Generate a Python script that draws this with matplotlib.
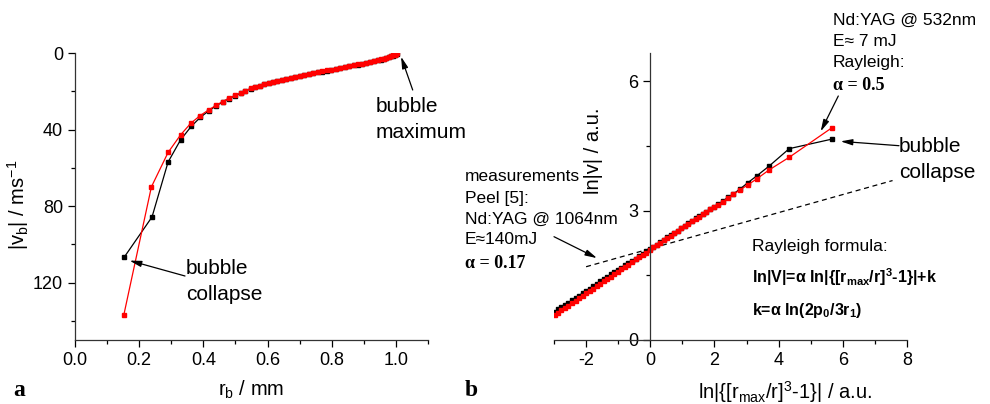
import matplotlib
matplotlib.use('Agg')
import matplotlib.pyplot as plt

plt.rcParams['font.family'] = ['Liberation Sans', 'DejaVu Sans']
plt.rcParams['mathtext.fontset'] = 'custom'
plt.rcParams['mathtext.rm'] = 'Liberation Sans'
plt.rcParams['mathtext.it'] = 'Liberation Sans:italic'
plt.rcParams['mathtext.bf'] = 'Liberation Sans:bold'
plt.rcParams['axes.unicode_minus'] = False

# panel a: bubble wall velocity vs radius
r_meas = [0.153, 0.240, 0.290, 0.329, 0.362, 0.390, 0.417, 0.440, 0.460, 0.480, 0.499, 0.516,
          0.531, 0.547, 0.561, 0.575, 0.589, 0.603, 0.617, 0.631, 0.645, 0.659, 0.673, 0.687,
          0.701, 0.715, 0.729, 0.743, 0.757, 0.771, 0.785, 0.799, 0.813, 0.827, 0.841, 0.855,
          0.869, 0.882, 0.895, 0.908, 0.920, 0.932, 0.943, 0.953, 0.962, 0.970, 0.978, 0.985,
          0.991, 0.996, 1.000, 1.003]
v_meas = [106.8, 85.7, 57.0, 45.4, 38.4, 33.7, 30.2, 27.6, 25.6, 23.8, 22.3, 21.1,
          19.9, 18.7, 17.8, 17.1, 16.4, 15.8, 15.2, 14.6, 14.1, 13.5, 13.0, 12.5,
          12.0, 11.5, 11.0, 10.6, 10.1, 9.7, 9.2, 8.8, 8.4, 7.9, 7.4, 7.0,
          6.5, 6.1, 5.6, 5.1, 4.7, 4.3, 3.9, 3.4, 3.1, 2.7, 2.3, 1.8,
          1.4, 1.0, 0.6, 0.3]
r_ray = [0.152, 0.238, 0.290, 0.329, 0.361, 0.390, 0.417, 0.440, 0.460, 0.480, 0.499, 0.516,
         0.531, 0.547, 0.561, 0.575, 0.589, 0.603, 0.617, 0.631, 0.645, 0.659, 0.673, 0.687,
         0.701, 0.715, 0.729, 0.743, 0.757, 0.771, 0.785, 0.799, 0.813, 0.827, 0.841, 0.855,
         0.869, 0.882, 0.895, 0.908, 0.920, 0.932, 0.943, 0.953, 0.962, 0.970, 0.978, 0.985,
         0.991, 0.996, 1.000, 1.003]
v_ray = [137.0, 70.0, 52.0, 42.8, 36.7, 32.7, 29.7, 27.3, 25.4, 23.6, 22.2, 21.0,
         19.8, 18.5, 17.7, 17.0, 16.3, 15.7, 15.1, 14.5, 14.0, 13.4, 12.9, 12.4,
         11.9, 11.4, 10.9, 10.5, 10.0, 9.6, 9.1, 8.7, 8.3, 7.8, 7.3, 6.9,
         6.4, 6.0, 5.5, 5.0, 4.6, 4.2, 3.8, 3.3, 3.0, 2.6, 2.2, 1.7,
         1.3, 0.9, 0.5, 0.2]

# panel b: log-log representation
lx_meas = [5.65, 4.33, 3.71, 3.32, 3.04, 2.79, 2.59, 2.42, 2.26, 2.11, 1.98, 1.86, 1.74,
           1.63, 1.52, 1.41, 1.30, 1.19, 1.08, 0.97, 0.86, 0.75, 0.64, 0.53, 0.42, 0.31,
           0.20, 0.09, -0.02, -0.13, -0.24, -0.35, -0.46, -0.57, -0.68, -0.79, -0.90,
           -1.01, -1.12, -1.23, -1.34, -1.45, -1.56, -1.67, -1.78, -1.89, -2.00, -2.11,
           -2.22, -2.33, -2.44, -2.55, -2.66, -2.77, -2.88, -2.97]
ly_meas = [4.66, 4.44, 4.04, 3.81, 3.65, 3.50, 3.39, 3.31, 3.22, 3.15, 3.09, 3.03, 2.98,
           2.93, 2.87, 2.82, 2.76, 2.71, 2.65, 2.60, 2.54, 2.49, 2.43, 2.38, 2.32, 2.27,
           2.21, 2.16, 2.11, 2.06, 2.00, 1.95, 1.89, 1.84, 1.79, 1.73, 1.68,
           1.63, 1.57, 1.52, 1.46, 1.41, 1.36, 1.30, 1.25, 1.19, 1.14, 1.09,
           1.03, 0.98, 0.92, 0.87, 0.82, 0.76, 0.71, 0.66]
lx_ray = [5.65, 4.33, 3.71, 3.32, 3.04, 2.79, 2.59, 2.42, 2.26, 2.11, 1.98, 1.86, 1.74,
          1.63, 1.52, 1.41, 1.30, 1.19, 1.08, 0.97, 0.86, 0.75, 0.64, 0.53, 0.42, 0.31,
          0.20, 0.09, -0.02, -0.13, -0.24, -0.35, -0.46, -0.57, -0.68, -0.79, -0.90,
          -1.01, -1.12, -1.23, -1.34, -1.45, -1.56, -1.67, -1.78, -1.89, -2.00, -2.11,
          -2.22, -2.33, -2.44, -2.55, -2.66, -2.77, -2.88, -2.97]
ly_ray = [4.92, 4.24, 3.95, 3.74, 3.60, 3.48, 3.38, 3.30, 3.21, 3.14, 3.09, 3.03, 2.97,
          2.92, 2.86, 2.81, 2.75, 2.70, 2.64, 2.59, 2.53, 2.48, 2.42, 2.37, 2.31, 2.26,
          2.20, 2.15, 2.09, 2.03, 1.98, 1.92, 1.87, 1.81, 1.75, 1.70, 1.64,
          1.58, 1.53, 1.47, 1.42, 1.36, 1.30, 1.25, 1.19, 1.14, 1.08, 1.02,
          0.97, 0.91, 0.86, 0.80, 0.74, 0.69, 0.63, 0.59]
peel_x = [-2.0, 7.55]
peel_y = [1.70, 3.70]

W, H = 990, 404
fig = plt.figure(figsize=(W / 100, H / 100), dpi=100)

def fx(px):
    return px / W

def fy(py):
    return 1 - py / H

arrow = dict(arrowstyle='-|>,head_length=0.7,head_width=0.18', color='black', lw=0.9,
             shrinkA=0, shrinkB=0)

#---- panel a
ax1 = fig.add_axes([fx(75), fy(340), fx(428) - fx(75), fy(53) - fy(340)])
ax1.plot(r_meas, v_meas, color='black', lw=0.9, marker='s', ms=3, mec='black', mfc='black')
ax1.plot(r_ray, v_ray, color='red', lw=0.9, marker='s', ms=3, mec='red', mfc='red')
ax1.set_xlim(0, 1.1)
ax1.set_ylim(150, 0)
ax1.set_xticks([0.0, 0.2, 0.4, 0.6, 0.8, 1.0])
ax1.set_xticks([0.1, 0.3, 0.5, 0.7, 0.9, 1.1], minor=True)
ax1.set_xticklabels(['0.0', '0.2', '0.4', '0.6', '0.8', '1.0'])
ax1.set_yticks([0, 40, 80, 120])
ax1.set_yticks([20, 60, 100, 140], minor=True)
ax1.spines['top'].set_visible(False)
ax1.spines['right'].set_visible(False)
ax1.set_xlabel(r'r$_\mathregular{b}$ / mm', fontsize=14.5)
ax1.xaxis.set_label_coords(0.5, -0.135)
ax1.set_ylabel(r'|v$_\mathregular{b}$| / ms$^\mathregular{-1}$', fontsize=14.5)
ax1.yaxis.set_label_coords(-0.125, 0.47)

ax1.annotate('', xy=(0.17, 108.5), xytext=(fx(185), fy(276)), textcoords='figure fraction',
             arrowprops=arrow)
ax1.annotate('', xy=(1.016, 1.9), xytext=(fx(412.7), fy(90)), textcoords='figure fraction',
             arrowprops=arrow)
fig.text(fx(186), fy(269), 'bubble', fontsize=15, va='center')
fig.text(fx(186), fy(295), 'collapse', fontsize=15, va='center')
fig.text(fx(376), fy(106), 'bubble', fontsize=15, va='center')
fig.text(fx(376), fy(132), 'maximum', fontsize=15, va='center')

#---- panel b
ax2 = fig.add_axes([fx(554), fy(340), fx(907) - fx(554), fy(53) - fy(340)])
ax2.plot(peel_x, peel_y, color='black', lw=0.9, ls=(0, (4, 3)))
ax2.plot(lx_meas, ly_meas, color='black', lw=0.9, marker='s', ms=3, mec='black', mfc='black')
ax2.plot(lx_ray, ly_ray, color='red', lw=0.9, marker='s', ms=3, mec='red', mfc='red')
ax2.set_xlim(-3, 8)
ax2.set_ylim(0, 6.66)
ax2.set_xticks([-2, 0, 2, 4, 6, 8])
ax2.set_xticks([-3, -1, 1, 3, 5, 7], minor=True)
ax2.set_yticks([0, 3, 6])
ax2.set_yticks([1.5, 4.5], minor=True)
ax2.spines['top'].set_visible(False)
ax2.spines['right'].set_visible(False)
ax2.spines['left'].set_position(('data', 0))
ax2.set_xlabel(r'ln|{[r$_\mathregular{max}$/r]$^\mathregular{3}$-1}| / a.u.', fontsize=14.5)
ax2.xaxis.set_label_coords(0.655, -0.135)
ax2.set_ylabel('ln|v| / a.u.', fontsize=14.5)
ax2.yaxis.set_label_coords(0.139, 0.66)

for ax in (ax1, ax2):
    ax.tick_params(which='both', direction='out', labelsize=13, width=0.9)
    ax.tick_params(which='major', length=5)
    ax.tick_params(which='minor', length=3)
    for s in ('left', 'bottom'):
        ax.spines[s].set_linewidth(0.9)
        ax.spines[s].set_color('#333333')

ax2.annotate('', xy=(5.31, 4.84), xytext=(fx(838.3), fy(96)), textcoords='figure fraction',
             arrowprops=arrow)
ax2.annotate('', xy=(5.93, 4.61), xytext=(fx(899), fy(145.7)), textcoords='figure fraction',
             arrowprops=arrow)
ax2.annotate('', xy=(-1.66, 1.90), xytext=(fx(554), fy(236.7)), textcoords='figure fraction',
             arrowprops=arrow)

fig.text(fx(833), fy(20), 'Nd:YAG @ 532nm', fontsize=12.5, va='center')
fig.text(fx(833), fy(42), 'E≈ 7 mJ', fontsize=12.5, va='center')
fig.text(fx(833), fy(63), 'Rayleigh:', fontsize=12.5, va='center')
fig.text(fx(833), fy(86), 'α = 0.5', fontsize=13, va='center', fontweight='bold',
         family='Liberation Serif')
fig.text(fx(899), fy(147), 'bubble', fontsize=15, va='center')
fig.text(fx(899), fy(173), 'collapse', fontsize=15, va='center')

fig.text(fx(465), fy(177), 'measurements', fontsize=12.5, va='center')
fig.text(fx(465), fy(198), 'Peel [5]:', fontsize=12.5, va='center')
fig.text(fx(465), fy(219), 'Nd:YAG @ 1064nm', fontsize=12.5, va='center')
fig.text(fx(465), fy(240), 'E≈140mJ', fontsize=12.5, va='center')
fig.text(fx(465), fy(263), 'α = 0.17', fontsize=13, va='center', fontweight='bold',
         family='Liberation Serif')

fig.text(fx(752), fy(247), 'Rayleigh formula:', fontsize=12.5, va='center')
fig.text(fx(752), fy(277), r'ln|V|=α ln|{[r$_\mathregular{max}$/r]$^\mathregular{3}$-1}|+k',
         fontsize=11.5, va='center', fontweight='bold')
fig.text(fx(752), fy(311), r'k=α ln(2p$_\mathregular{0}$/3r$_\mathregular{1}$)',
         fontsize=11.5, va='center', fontweight='bold')

fig.text(fx(13), fy(390), 'a', fontsize=17, va='center', fontweight='bold',
         family='Liberation Serif')
fig.text(fx(465), fy(390), 'b', fontsize=17, va='center', fontweight='bold',
         family='Liberation Serif')

fig.savefig('out.png', dpi=100)
